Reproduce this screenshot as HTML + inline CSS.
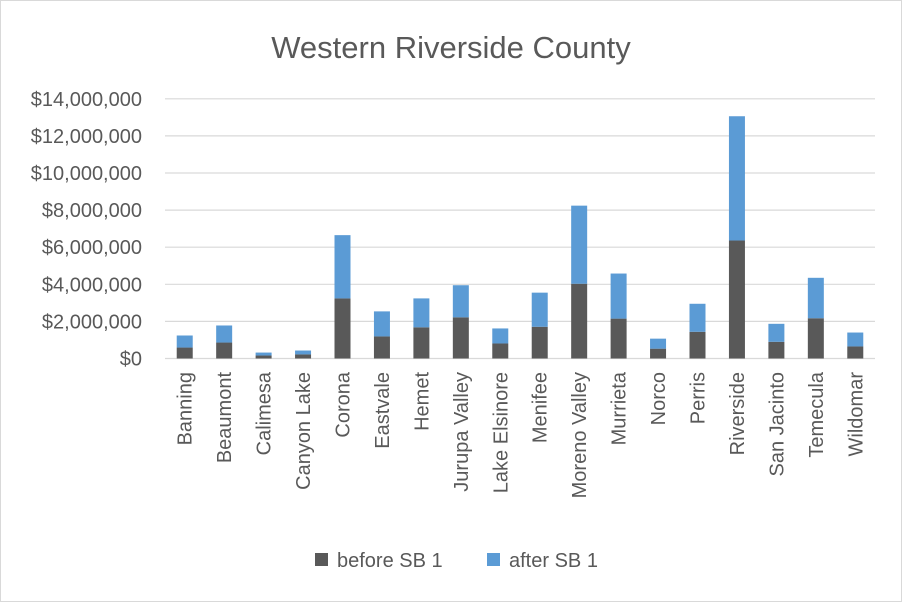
<!DOCTYPE html>
<html><head><meta charset="utf-8"><style>
body{margin:0;background:#fff}
svg text{font-family:"Liberation Sans",Arial,sans-serif;fill:#595959}
</style></head><body>
<svg id="chart" width="902" height="602" xmlns="http://www.w3.org/2000/svg">
<rect x="0.5" y="0.5" width="901" height="601" fill="#fff" stroke="#d9d9d9"/>
<text x="451" y="58" text-anchor="middle" font-size="31">Western Riverside County</text>
<g id="grid"></g><g id="bars"></g><g id="xlabels"></g><g id="ylabels"></g>
<g>
<rect x="315" y="553" width="13" height="13" fill="#595959"/>
<text x="337" y="567" font-size="20">before SB 1</text>
<rect x="487" y="553" width="13" height="13" fill="#5b9bd5"/>
<text x="509" y="567" font-size="20">after SB 1</text>
</g>
</svg>
<script>
const categories=["Banning","Beaumont","Calimesa","Canyon Lake","Corona","Eastvale","Hemet","Jurupa Valley","Lake Elsinore","Menifee","Moreno Valley","Murrieta","Norco","Perris","Riverside","San Jacinto","Temecula","Wildomar"];
const beforeSB1=[0.59,0.86,0.16,0.22,3.24,1.19,1.68,2.22,0.81,1.71,4.03,2.15,0.53,1.44,6.36,0.9,2.17,0.65];
const afterSB1=[0.65,0.92,0.16,0.21,3.41,1.35,1.56,1.73,0.81,1.84,4.21,2.43,0.54,1.51,6.70,0.97,2.18,0.75];
const yTicks=[0,2,4,6,8,10,12,14];
const yTickLabels=["$0","$2,000,000","$4,000,000","$6,000,000","$8,000,000","$10,000,000","$12,000,000","$14,000,000"];
const NS="http://www.w3.org/2000/svg";
const X0=165,X1=875,Y0=358.5,PXM=18.55;
const y=v=>Y0-v*PXM;
const band=(X1-X0)/categories.length;
const xc=i=>X0+band*(i+0.5);
function mk(t,a,p){const e=document.createElementNS(NS,t);for(const k in a)e.setAttribute(k,a[k]);p.appendChild(e);return e;}
const grid=document.getElementById('grid'),bars=document.getElementById('bars'),xl=document.getElementById('xlabels'),yl=document.getElementById('ylabels');
yTicks.forEach((t,i)=>{
 const l=mk('line',{x1:X0,x2:X1,y1:y(t),y2:y(t),stroke:'#d9d9d9','stroke-width':1.2},grid);
 
 
 const tx=mk('text',{x:142,y:y(t)+7,'text-anchor':'end','font-size':20},yl);
 tx.textContent=yTickLabels[i];
 
 
});
const bw=16;
categories.forEach((c,i)=>{
 const b=beforeSB1[i],a=afterSB1[i];
 const r1=mk('rect',{x:xc(i)-bw/2,y:y(b),width:bw,height:b*PXM,fill:'#595959'},bars);
 
 
 const r2=mk('rect',{x:xc(i)-bw/2,y:y(b+a),width:bw,height:a*PXM,fill:'#5b9bd5'},bars);
 
 
 const t=mk('text',{x:0,y:0,'text-anchor':'end','font-size':20,transform:`translate(${xc(i)+7},372) rotate(-90)`},xl);
 t.textContent=c;
 
 
});
</script>
</body></html>
